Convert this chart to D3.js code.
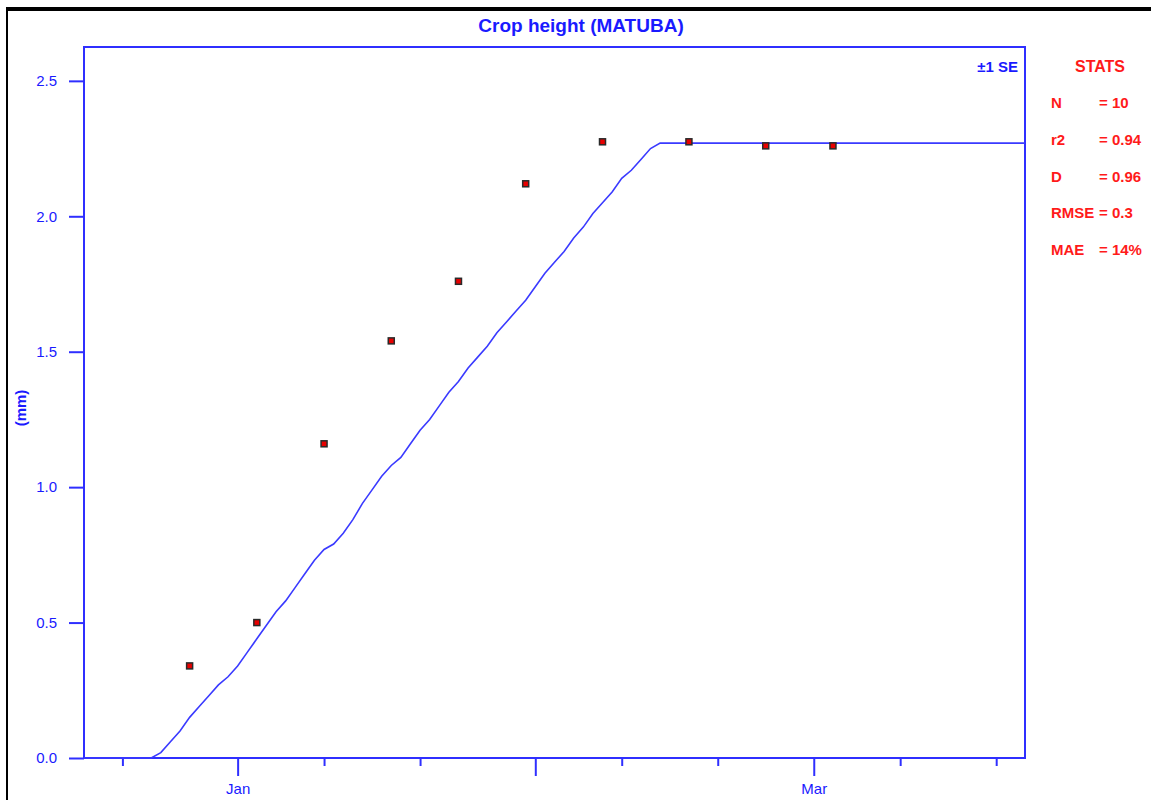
<!DOCTYPE html>
<html>
<head>
<meta charset="utf-8">
<script src="https://cdn.jsdelivr.net/npm/d3@7"></script>
<style>
  html, body { margin: 0; padding: 0; background: #ffffff; }
  svg { display: block; font-family: "Liberation Sans", Arial, sans-serif; }
</style>
</head>
<body>
<svg id="chart" width="1151" height="800"></svg>
<script>
// ---- data ----
const chartTitle = "Crop height (MATUBA)";
const yLabel = "(mm)";
const seLabel = "\u00b11 SE";

const simDates = ["2003-12-16","2003-12-23","2003-12-24","2003-12-25","2003-12-26","2003-12-27","2003-12-28","2003-12-29","2003-12-30","2003-12-31",
  "2004-01-01","2004-01-02","2004-01-03","2004-01-04","2004-01-05","2004-01-06","2004-01-07","2004-01-08","2004-01-09","2004-01-10",
  "2004-01-11","2004-01-12","2004-01-13","2004-01-14","2004-01-15","2004-01-16","2004-01-17","2004-01-18","2004-01-19","2004-01-20",
  "2004-01-21","2004-01-22","2004-01-23","2004-01-24","2004-01-25","2004-01-26","2004-01-27","2004-01-28","2004-01-29","2004-01-30",
  "2004-01-31","2004-02-01","2004-02-02","2004-02-03","2004-02-04","2004-02-05","2004-02-06","2004-02-07","2004-02-08","2004-02-09",
  "2004-02-10","2004-02-11","2004-02-12","2004-02-13","2004-02-14","2004-03-23"];
const simValues = [0,0,0.02,0.06,0.10,0.15,0.19,0.23,0.27,0.30,
  0.34,0.39,0.44,0.49,0.54,0.58,0.63,0.68,0.73,0.77,
  0.79,0.83,0.88,0.94,0.99,1.04,1.08,1.11,1.16,1.21,
  1.25,1.30,1.35,1.39,1.44,1.48,1.52,1.57,1.61,1.65,
  1.69,1.74,1.79,1.83,1.87,1.92,1.96,2.01,2.05,2.09,
  2.14,2.17,2.21,2.25,2.27,2.27];

const obsDates = ["2003-12-27","2004-01-03","2004-01-10","2004-01-17","2004-01-24","2004-01-31","2004-02-08","2004-02-17","2004-02-25","2004-03-03"];
const obsValues = [0.34,0.50,1.16,1.54,1.76,2.12,2.275,2.275,2.26,2.26];

const xDomainDates = ["2003-12-16","2004-03-23"];
const majorTickDates = ["2004-01-01","2004-02-01","2004-03-01"];
const majorTickLabels = ["Jan","","Mar"];
const minorTickDates = ["2003-12-20","2004-01-10","2004-01-20","2004-02-10","2004-02-20","2004-03-10","2004-03-20"];
const yTicks = [0,0.5,1.0,1.5,2.0,2.5];

const statLabels = ["N","r2","D","RMSE","MAE"];
const statValues = ["= 10","= 0.94","= 0.96","= 0.3","= 14%"];

// ---- drawing ----
const parse = d3.timeParse("%Y-%m-%d");
const svg = d3.select("#chart");
const blue = "#2f2fff";
const textBlue = "#1a1aff";
const red = "#ff1a1a";

const plot = {left: 84, right: 1025, top: 47, bottom: 758};

const x = d3.scaleTime().domain(xDomainDates.map(parse)).range([plot.left, plot.right]);
const y = d3.scaleLinear().domain([0, 2.625]).range([plot.bottom, plot.top]);

// outer black frame
svg.append("line").attr("x1", 6).attr("x2", 1151).attr("y1", 9).attr("y2", 9)
  .attr("stroke", "#000").attr("stroke-width", 4);
svg.append("line").attr("x1", 7).attr("x2", 7).attr("y1", 7).attr("y2", 800)
  .attr("stroke", "#000").attr("stroke-width", 2);

// title
svg.append("text").attr("x", 581).attr("y", 32).attr("text-anchor", "middle")
  .attr("font-size", 19).attr("font-weight", "bold").attr("fill", textBlue).text(chartTitle);

// y axis
const yAxis = d3.axisLeft(y).tickValues(yTicks).tickFormat(d3.format(".1f")).tickSize(15).tickPadding(12);
const gy = svg.append("g").attr("transform", `translate(${plot.left},0)`).call(yAxis);
gy.select(".domain").remove();
gy.selectAll(".tick line").attr("stroke", blue).attr("stroke-width", 2);
gy.selectAll(".tick text").attr("fill", textBlue).attr("font-size", 15).attr("font-family", "Liberation Sans, Arial, sans-serif");

// x axis major
const xAxisMajor = d3.axisBottom(x).tickValues(majorTickDates.map(parse))
  .tickFormat((d, i) => majorTickLabels[i]).tickSize(18).tickPadding(7);
const gx = svg.append("g").attr("transform", `translate(0,${plot.bottom})`).call(xAxisMajor);
gx.select(".domain").remove();
gx.selectAll(".tick line").attr("stroke", blue).attr("stroke-width", 2);
gx.selectAll(".tick text").attr("fill", textBlue).attr("font-size", 15).attr("font-family", "Liberation Sans, Arial, sans-serif");

// x axis minor
const xAxisMinor = d3.axisBottom(x).tickValues(minorTickDates.map(parse)).tickFormat("").tickSize(8);
const gxm = svg.append("g").attr("transform", `translate(0,${plot.bottom})`).call(xAxisMinor);
gxm.select(".domain").remove();
gxm.selectAll(".tick line").attr("stroke", blue).attr("stroke-width", 2);

// plot frame
svg.append("rect").attr("x", plot.left).attr("y", plot.top)
  .attr("width", plot.right - plot.left).attr("height", plot.bottom - plot.top)
  .attr("fill", "none").attr("stroke", blue).attr("stroke-width", 2);

// y label
svg.append("text").attr("transform", "translate(26,408) rotate(-90)")
  .attr("text-anchor", "middle").attr("font-size", 15).attr("font-weight", "bold")
  .attr("fill", textBlue).text(yLabel);

// SE label
svg.append("text").attr("x", 1018).attr("y", 72).attr("text-anchor", "end")
  .attr("font-size", 15).attr("font-weight", "bold").attr("fill", textBlue).text(seLabel);

// simulated line
const simData = simDates.map((d, i) => ({date: parse(d), value: simValues[i]}));
svg.append("path").datum(simData)
  .attr("fill", "none").attr("stroke", "#3a3aff").attr("stroke-width", 1.6)
  .attr("d", d3.line().x(d => x(d.date)).y(d => y(d.value)));

// observed points
const obsData = obsDates.map((d, i) => ({date: parse(d), value: obsValues[i]}));
svg.append("g").selectAll("rect").data(obsData).join("rect")
  .attr("x", d => x(d.date) - 3).attr("y", d => y(d.value) - 3)
  .attr("width", 6).attr("height", 6)
  .attr("fill", "#e80000").attr("stroke", "#2a2a2a").attr("stroke-width", 1.5);

// stats panel
svg.append("text").attr("x", 1100).attr("y", 72).attr("text-anchor", "middle")
  .attr("font-size", 16).attr("font-weight", "bold").attr("fill", red).text("STATS");
const statG = svg.append("g");
statLabels.forEach((lab, i) => {
  const yy = 108 + i * 36.8;
  statG.append("text").attr("x", 1051).attr("y", yy)
    .attr("font-size", 15).attr("font-weight", "bold").attr("fill", red).text(lab);
  statG.append("text").attr("x", 1099).attr("y", yy)
    .attr("font-size", 15).attr("font-weight", "bold").attr("fill", red).text(statValues[i]);
});
</script>
</body>
</html>
